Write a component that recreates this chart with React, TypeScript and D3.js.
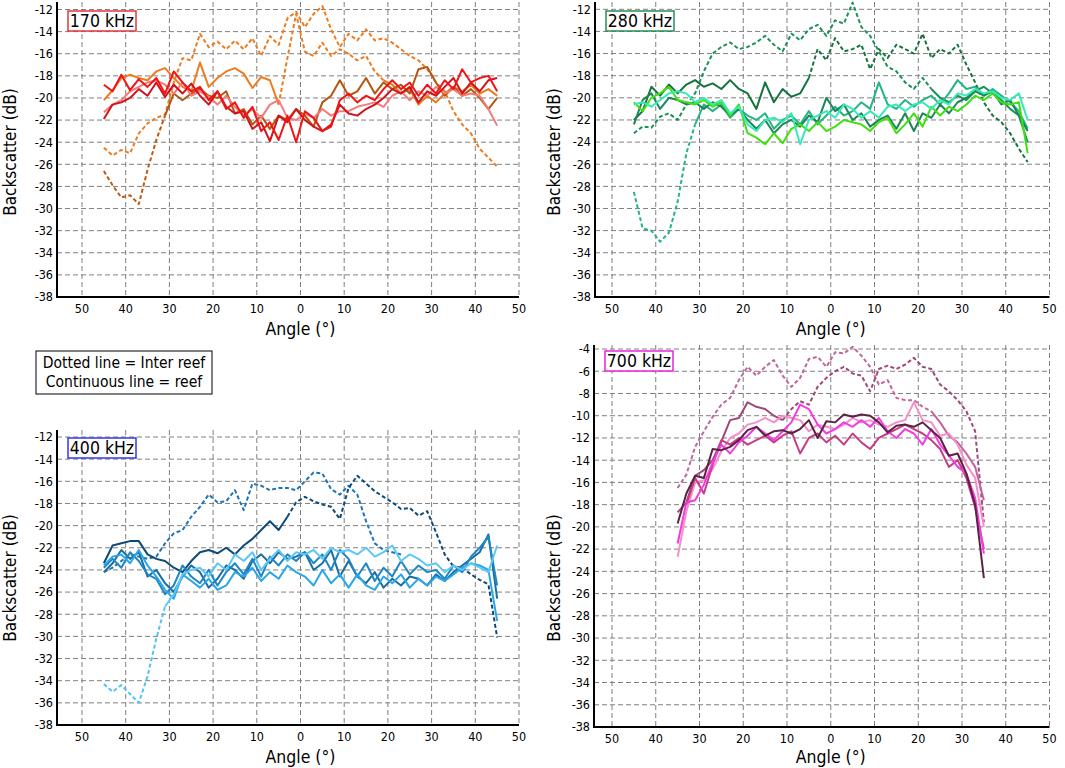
import React from 'react'
import * as d3 from 'd3'

// backscatter curves, 2 degree steps; each array starts at the angle given in the panel table
const r170Red = [-18.8, -19.4, -17.9, -19.3, -18.3, -19.0, -18.2, -19.6, -17.6, -18.6, -19.4, -19.0, -20.2, -19.4, -21.0, -20.4, -21.8, -20.8, -23.0, -22.2, -23.8, -21.6, -24.0, -21.2, -21.8, -23.0, -22.6, -20.2, -19.6, -20.4, -19.8, -20.2, -19.2, -18.4, -19.2, -18.6, -19.8, -18.8, -19.6, -18.4, -19.2, -17.4, -18.6, -18.2, -18.0, -19.4]
const r170DarkRed = [-21.9, -20.6, -20.4, -20.0, -19.2, -19.8, -18.6, -19.9, -18.8, -19.6, -18.7, -19.8, -20.6, -19.4, -20.8, -21.4, -21.2, -22.8, -22.2, -23.9, -21.6, -22.2, -21.0, -22.0, -22.6, -23.0, -22.4, -20.6, -21.4, -21.6, -21.0, -20.6, -20.0, -19.2, -19.6, -19.0, -20.4, -19.4, -19.8, -19.0, -18.2, -19.6, -18.6, -19.4, -18.4, -18.2]
const r170Pink = [-21.3, -20.6, -20.2, -19.4, -19.0, -18.6, -18.4, -18.8, -19.6, -18.6, -19.8, -19.4, -19.9, -20.6, -19.8, -20.8, -21.6, -21.0, -21.8, -20.6, -20.2, -21.8, -22.0, -21.4, -21.8, -21.0, -21.6, -21.2, -21.2, -20.8, -20.6, -20.4, -20.8, -19.8, -19.4, -20.2, -19.4, -19.8, -19.0, -19.6, -19.2, -19.8, -19.6, -19.8, -21.0, -22.5]
const r170Orange = [-20.2, -19.3, -18.2, -17.9, -18.2, -18.4, -17.6, -17.3, -18.2, -19.0, -19.4, -16.8, -19.0, -18.2, -17.6, -17.3, -17.8, -19.1, -18.1, -18.4, -20.6]
const i170OrangeMid = [-20.6, -16.4, -12.4, -15.8, -16.2, -15.0, -16.2, -15.6, -16.0, -16.6, -16.2, -17.6, -18.4]
const r170OrangeEnd = [-18.4, -18.8, -19.6, -19.2, -20.6, -19.8, -20.4, -19.6, -19.0, -19.4, -18.8, -19.6, -19.2, -19.8]
const i170Orange = [-24.5, -25.2, -24.7, -25.0, -23.2, -22.3, -21.8, -21.5, -18.6, -16.4, -16.6, -14.2, -15.4, -14.9, -15.6, -14.8, -15.6, -14.6, -16.2, -14.4, -15.2, -12.8, -12.2, -13.6, -12.4, -11.7, -13.8, -15.4, -14.2, -14.8, -13.8, -14.8, -14.6, -15.0, -15.6, -16.2, -16.6, -17.4, -18.6, -19.4, -21.2, -22.4, -23.2, -24.6, -25.4, -26.2]
const i170Brown = [-26.6, -27.9, -29.0, -28.8, -29.6, -26.5, -23.8, -21.6]
const r170Brown = [-21.6, -19.6, -20.2, -19.6, -19.2, -19.8, -20.0, -19.4, -21.4, -21.0, -22.4, -21.6, -22.8, -21.6, -22.0, -21.0, -21.6, -22.6, -20.4, -19.8, -18.4, -19.8, -19.4, -18.2, -19.6, -18.6, -19.2, -18.8, -19.6, -17.4, -17.2, -18.6, -19.8, -19.0, -19.8, -19.2, -20.0, -21.0, -20.0]

const r280Dark = [-22.0, -21.2, -19.0, -19.8, -18.8, -19.6, -18.8, -18.4, -19.0, -18.7, -19.2, -18.4, -19.2, -19.6, -21.0, -18.6, -20.4, -19.2, -19.9, -19.6, -18.2]
const i280Dark = [-18.2, -15.6, -16.6, -14.6, -15.8, -15.6, -15.2, -17.4, -15.6, -16.4, -15.2, -15.6, -16.0, -14.2, -16.4, -15.6, -16.0, -15.2, -17.0, -18.6, -20.4, -21.6, -22.2, -23.2, -24.6, -25.8]
const i280Mid = [-23.2, -22.6, -22.7, -21.7, -21.4, -22.0, -20.6, -19.6, -17.6, -16.0, -15.4, -15.0, -15.6, -15.4, -15.0, -14.4, -15.2, -15.8, -14.2, -14.8, -13.8, -13.4, -14.4, -13.0, -13.3, -11.4, -13.6, -14.4, -15.8, -17.2, -17.6, -18.6, -19.2, -18.2, -19.2]
const r280MidEnd = [-19.2, -20.0, -20.4, -19.8, -20.2, -19.4, -19.0, -19.6, -20.2, -21.0, -21.6, -24.0]
const i280Teal = [-28.5, -31.8, -32.0, -33.0, -32.2, -29.4, -25.0, -22.4]
const r280Teal = [-22.4, -20.6, -21.2, -20.6, -21.8, -21.0, -21.6, -22.0, -21.4, -22.8, -22.0, -21.6, -22.4, -21.2, -22.4, -21.6, -20.8, -21.6, -21.2, -20.4, -21.0, -18.6, -20.6, -21.0, -20.2, -20.8, -20.2, -19.8, -20.6, -19.6, -18.4, -19.2, -19.0, -19.8, -19.2, -19.8, -20.4, -21.2, -22.8]
const r280Sea = [-22.4, -20.2, -19.6, -21.0, -20.0, -20.2, -20.6, -20.4, -21.0, -20.4, -20.8, -21.6, -21.0, -22.0, -22.8, -22.0, -23.2, -22.4, -22.0, -22.6, -21.6, -22.2, -20.0, -21.2, -20.6, -22.0, -21.4, -22.6, -22.0, -21.6, -22.8, -21.4, -23.0, -21.4, -21.8, -20.6, -21.4, -20.4, -20.0, -19.4, -19.8, -19.4, -20.6, -20.2, -21.6, -23.0]
const r280Lime = [-20.4, -21.2, -20.0, -19.6, -19.0, -20.2, -20.4, -20.6, -20.2, -20.8, -20.4, -21.6, -20.6, -23.2, -23.6, -24.2, -23.2, -24.1, -22.8, -22.4, -23.0, -22.2, -23.0, -22.6, -22.0, -22.2, -22.4, -23.0, -22.2, -21.8, -23.2, -22.4, -21.4, -22.6, -20.8, -21.6, -20.8, -21.2, -20.6, -19.8, -20.2, -19.6, -20.4, -20.6, -20.4, -25.0]
const r280Aqua = [-20.6, -20.4, -20.8, -20.2, -19.6, -19.4, -19.6, -20.4, -20.0, -20.6, -20.2, -21.4, -20.8, -22.4, -23.0, -22.0, -21.8, -22.2, -21.4, -24.2, -22.0, -21.6, -21.2, -21.8, -20.6, -21.0, -21.8, -21.2, -21.8, -20.8, -20.6, -21.2, -20.6, -20.4, -21.0, -20.2, -20.6, -19.6, -19.8, -19.2, -19.6, -19.4, -20.0, -20.2, -19.6, -22.0]

const r400Navy = [-23.4, -21.8, -21.6, -21.4, -21.4, -22.6, -23.0, -23.2, -23.8, -24.2, -23.2, -22.4, -22.2, -22.5, -22.0, -22.6, -21.8, -21.2, -20.4, -19.6, -20.4, -19.2]
const i400Navy = [-19.2, -17.9, -17.4, -17.8, -18.1, -18.3, -19.4, -16.6, -15.5, -16.2, -16.9, -17.4, -17.9, -18.5, -18.4, -19.1, -18.7, -20.6, -22.6, -23.7, -23.8, -24.4, -24.9, -25.3, -30.1]
const i400Mid = [-24.2, -23.8, -23.2, -22.6, -22.8, -23.0, -22.8, -21.6, -20.7, -20.4, -19.2, -18.3, -17.2, -17.9, -17.8, -16.8, -18.6, -16.2, -16.4, -16.8, -16.6, -16.6, -16.8, -16.0, -15.2, -15.3, -16.7, -17.2, -16.4, -17.2, -19.6, -21.6, -22.2, -22.4, -22.6]
const r400Mid = [-23.8, -23.0, -23.8, -22.4, -23.2, -24.4, -24.8, -26.2, -25.4, -23.6, -24.6, -25.2, -24.0, -25.4, -24.2, -23.4, -24.4, -23.0, -24.6, -22.8, -23.6, -22.6, -23.2, -22.4, -23.4, -22.6, -24.0, -22.2, -23.0, -24.6, -23.4, -25.0, -23.8, -24.6, -23.2, -24.4, -23.6, -24.2, -24.0, -24.8, -23.6, -24.2, -22.8, -22.0, -21.0, -25.4]
const r400Teal = [-24.2, -23.4, -22.2, -23.0, -22.4, -24.6, -24.0, -25.2, -26.0, -24.6, -23.6, -24.2, -25.6, -24.8, -23.6, -24.0, -24.8, -23.2, -22.6, -23.4, -22.4, -23.0, -22.8, -22.4, -24.0, -23.4, -22.2, -24.6, -23.2, -24.6, -25.2, -24.2, -25.6, -24.8, -25.4, -24.6, -24.8, -25.4, -24.4, -25.0, -24.2, -23.6, -23.0, -22.4, -20.8, -26.6]
const r400Sky = [-23.6, -22.8, -22.6, -23.4, -22.2, -23.6, -24.6, -25.8, -26.6, -24.4, -25.0, -25.6, -24.8, -25.8, -25.4, -24.2, -24.6, -23.8, -25.0, -24.2, -24.8, -23.6, -24.2, -24.6, -25.4, -24.0, -25.2, -24.4, -25.6, -24.4, -25.4, -25.8, -24.6, -25.2, -24.4, -25.6, -24.8, -25.4, -24.6, -25.0, -24.4, -23.8, -23.4, -23.6, -24.0, -28.6]
const i400Light = [-34.3, -35.0, -34.4, -35.2, -36.0, -33.6, -30.2, -27.3]
const r400Light = [-27.3, -26.2, -24.4, -24.0, -23.8, -24.6, -23.4, -24.0, -22.6, -23.2, -22.4, -24.0, -23.0, -22.2, -23.2, -22.4, -22.6, -22.2, -23.0, -22.0, -22.4, -22.2, -22.6, -22.0, -22.8, -22.4, -21.8, -23.2, -22.6, -23.0, -23.6, -23.4, -24.2, -23.6, -24.0, -23.4, -23.8, -24.2, -21.8]

const r700Plum = [-19.7, -17.0, -15.4, -15.6, -13.0, -13.1, -12.8, -12.2, -11.3, -11.0, -11.8, -11.4, -11.3, -11.6, -11.2, -10.4, -12.0, -10.5, -10.6, -9.9, -10.1, -9.9, -10.0, -10.6, -11.5, -10.9, -10.8, -11.0, -10.6, -11.3, -12.0, -13.6, -13.4, -15.2, -18.0, -24.6]
const r700Mauve = [-18.7, -17.8, -15.4, -14.9, -14.0, -12.3, -10.4, -10.2, -8.8, -9.2, -9.4, -10.0, -10.4]
const i700Mauve = [-10.4, -9.4, -8.7, -9.0, -7.4, -6.6, -6.0, -5.6, -6.2, -6.4, -7.8, -5.8, -5.5, -5.8, -5.4, -4.8, -5.6, -5.8, -7.2, -7.8, -8.6, -9.6, -11.4, -19.6]
const r700Magenta = [-21.5, -17.8, -17.6, -16.2, -14.2, -12.6, -13.4, -12.4, -11.8, -11.0, -11.6, -12.2, -11.4, -10.6, -9.0, -9.4, -10.8, -11.6, -11.2, -10.6, -11.0, -10.4, -11.0, -10.2, -11.4, -12.0, -11.2, -11.6, -12.6, -11.2, -12.6, -13.6, -14.6, -15.2, -17.4, -22.4]
const r700Light = [-22.7, -18.6, -16.0, -15.8, -14.8, -13.2, -12.0, -11.6, -10.8, -10.6, -10.2, -10.6, -10.0, -10.2, -10.4, -11.4, -10.8, -11.0, -11.2, -10.8, -10.2, -10.6, -10.4, -10.8, -11.0, -10.6, -10.4, -8.8, -10.4, -10.6, -11.8, -11.6, -12.6, -14.4, -15.6, -20.0]
const r700Deep = [-18.0, -15.6, -17.0, -14.4, -12.2, -12.6, -12.0, -12.6, -12.2, -11.8, -12.4, -11.8, -11.4, -13.4, -12.0, -11.6, -12.4, -11.8, -12.6, -11.6, -12.4, -13.0, -12.0, -11.6, -11.2, -10.8, -11.2, -11.6, -12.2, -13.0, -14.6, -14.0, -15.6, -18.2, -22.0]
const i700Rose = [-16.5, -15.3, -12.8, -11.4, -10.1, -9.0, -8.4, -6.8, -5.6, -6.4, -5.6, -5.0, -6.4, -7.4, -6.6, -4.9, -4.7, -5.6, -4.3, -4.4, -3.8, -4.6, -5.6, -7.2, -6.8, -8.4, -8.6, -8.6, -9.2, -9.6]
const r700Rose = [-9.6, -10.6, -11.8, -12.4, -13.4, -14.6, -17.6]

const angleTicks = [-50, -40, -30, -20, -10, 0, 10, 20, 30, 40, 50]
const dbTicks = [-12, -14, -16, -18, -20, -22, -24, -26, -28, -30, -32, -34, -36, -38]
const dbTicks700 = [-4, -6, -8, -10, -12, -14, -16, -18, -20, -22, -24, -26, -28, -30, -32, -34, -36, -38]

type Seg = { start: number; values: number[]; color: string; dashed?: boolean }

const segs170: Seg[] = [
  { start: -45, values: i170Orange, color: '#ef7b1f', dashed: true },
  { start: -45, values: i170Brown, color: '#bf5a10', dashed: true },
  { start: -5, values: i170OrangeMid, color: '#ef7b1f', dashed: true },
  { start: -45, values: r170Orange, color: '#ef7b1f' },
  { start: 19, values: r170OrangeEnd, color: '#e8761c' },
  { start: -31, values: r170Brown, color: '#b5560f' },
  { start: -45, values: r170Pink, color: '#f47b7b' },
  { start: -45, values: r170DarkRed, color: '#d0141c' },
  { start: -45, values: r170Red, color: '#f21414' },
]
const segs280: Seg[] = [
  { start: -45, values: i280Mid, color: '#1a9256', dashed: true },
  { start: -45, values: i280Teal, color: '#25b583', dashed: true },
  { start: -5, values: i280Dark, color: '#16733e', dashed: true },
  { start: -45, values: r280Dark, color: '#16733e' },
  { start: 23, values: r280MidEnd, color: '#1a9256' },
  { start: -31, values: r280Teal, color: '#25b583' },
  { start: -45, values: r280Sea, color: '#1e8558' },
  { start: -45, values: r280Lime, color: '#3fe012' },
  { start: -45, values: r280Aqua, color: '#35eab8' },
]
const segs400: Seg[] = [
  { start: -45, values: i400Mid, color: '#1d74b6', dashed: true },
  { start: -3, values: i400Navy, color: '#0c4a78', dashed: true },
  { start: -45, values: i400Light, color: '#52c2f2', dashed: true },
  { start: -45, values: r400Navy, color: '#0c4a78' },
  { start: -45, values: r400Teal, color: '#186ea2' },
  { start: -45, values: r400Mid, color: '#1f86c6' },
  { start: -45, values: r400Sky, color: '#2aa6ea' },
  { start: -31, values: r400Light, color: '#5ec8f4' },
]
const segs700: Seg[] = [
  { start: -35, values: i700Rose, color: '#c2659b', dashed: true },
  { start: -11, values: i700Mauve, color: '#a0477a', dashed: true },
  { start: -35, values: r700Mauve, color: '#a0477a' },
  { start: 23, values: r700Rose, color: '#c2659b' },
  { start: -35, values: r700Light, color: '#f58ec9' },
  { start: -33, values: r700Deep, color: '#c83c86' },
  { start: -35, values: r700Magenta, color: '#f43ae2' },
  { start: -35, values: r700Plum, color: '#5c2245' },
]

const font = "'DejaVu Sans Condensed', 'DejaVu Sans', sans-serif"

interface PanelProps {
  segs: Seg[]
  ticks: number[]
  xRange: [number, number]
  left: number
  top: number
  yRange: [number, number]
  label: string
  labelColor: string
  labelY: number
  yTitleX: number
  yTitleY: number
  xTitleY: number
}

function Panel({ segs, ticks, xRange, left, top, yRange, label, labelColor, labelY, yTitleX, yTitleY, xTitleY }: PanelProps) {
  const x = d3.scaleLinear().domain([-50, 50]).range(xRange)
  const y = d3.scaleLinear().domain([ticks[0], ticks[ticks.length - 1]]).range(yRange)
  const right = xRange[1]
  const bottom = yRange[1]

  const path = (s: Seg) =>
    d3
      .line<number>()
      .x((_, i) => x(s.start + 2 * i))
      .y((d) => y(d))(s.values) || ''

  return (
    <g fontFamily={font}>
      {ticks.map((t) => (
        <line key={'h' + t} x1={left} x2={right} y1={y(t)} y2={y(t)} stroke="#808080" strokeWidth={1} strokeDasharray="5 3" />
      ))}
      {angleTicks.map((t) => (
        <line key={'v' + t} x1={x(t)} x2={x(t)} y1={top} y2={bottom} stroke="#808080" strokeWidth={1} strokeDasharray="5 3" />
      ))}
      {segs.map((s, i) => (
        <path
          key={i}
          d={path(s)}
          fill="none"
          stroke={s.color}
          strokeWidth={2}
          strokeLinejoin="round"
          strokeDasharray={s.dashed ? '4 2.5' : undefined}
        />
      ))}
      <line x1={left} x2={left} y1={top} y2={bottom + 1} stroke="#000" strokeWidth={2} />
      <line x1={left - 1} x2={right} y1={bottom} y2={bottom} stroke="#000" strokeWidth={2} />
      {ticks.map((t) => (
        <text key={'yl' + t} x={left - 4} y={y(t)} dy="0.35em" textAnchor="end" fontSize={12.5} fill="#000">
          {t}
        </text>
      ))}
      {angleTicks.map((t) => (
        <text key={'xl' + t} x={x(t)} y={bottom + 12} dy="0.35em" textAnchor="middle" fontSize={12.5} fill="#000">
          {Math.abs(t)}
        </text>
      ))}
      <text x={x(0)} y={xTitleY} dy="0.35em" textAnchor="middle" fontSize={17.5} fill="#000">
        Angle (°)
      </text>
      <text
        transform={`translate(${yTitleX},${yTitleY}) rotate(-90)`}
        dy="0.35em"
        textAnchor="middle"
        fontSize={17}
        fill="#000"
      >
        Backscatter (dB)
      </text>
      <rect x={left + 11} y={labelY} width={68} height={20} fill="#fff" stroke={labelColor} strokeWidth={1.5} />
      <text x={left + 45} y={labelY + 10} dy="0.36em" textAnchor="middle" fontSize={17.5} fill="#000">
        {label}
      </text>
    </g>
  )
}

export default function App() {
  return (
    <svg width={1065} height={768} style={{ position: 'absolute', left: 0, top: 0, background: '#fff' }}>
      <rect width={1065} height={768} fill="#fff" />
      <Panel segs={segs170} ticks={dbTicks} xRange={[82, 519]} left={57} top={2} yRange={[9.5, 297]}
        label="170 kHz" labelColor="#e2343c" labelY={11} yTitleX={10} yTitleY={152} xTitleY={329} />
      <Panel segs={segs280} ticks={dbTicks} xRange={[612, 1049.5]} left={595} top={2} yRange={[9.3, 297]}
        label="280 kHz" labelColor="#2a8c55" labelY={11} yTitleX={554} yTitleY={152} xTitleY={329} />
      <Panel segs={segs400} ticks={dbTicks} xRange={[82, 519]} left={57} top={430} yRange={[437, 725]}
        label="400 kHz" labelColor="#3434f0" labelY={438} yTitleX={10} yTitleY={578} xTitleY={757} />
      <Panel segs={segs700} ticks={dbTicks700} xRange={[612, 1049.5]} left={594} top={345} yRange={[349, 727]}
        label="700 kHz" labelColor="#f020d8" labelY={351} yTitleX={554} yTitleY={578} xTitleY={757} />
      <g fontFamily={font} fontSize={15.5} fill="#000">
        <rect x={36} y={351} width={176} height={43} fill="#fff" stroke="#000" strokeWidth={1} />
        <text x={124} y={363} dy="0.35em" textAnchor="middle">Dotted line = Inter reef</text>
        <text x={124} y={382} dy="0.35em" textAnchor="middle">Continuous line = reef</text>
      </g>
    </svg>
  )
}
